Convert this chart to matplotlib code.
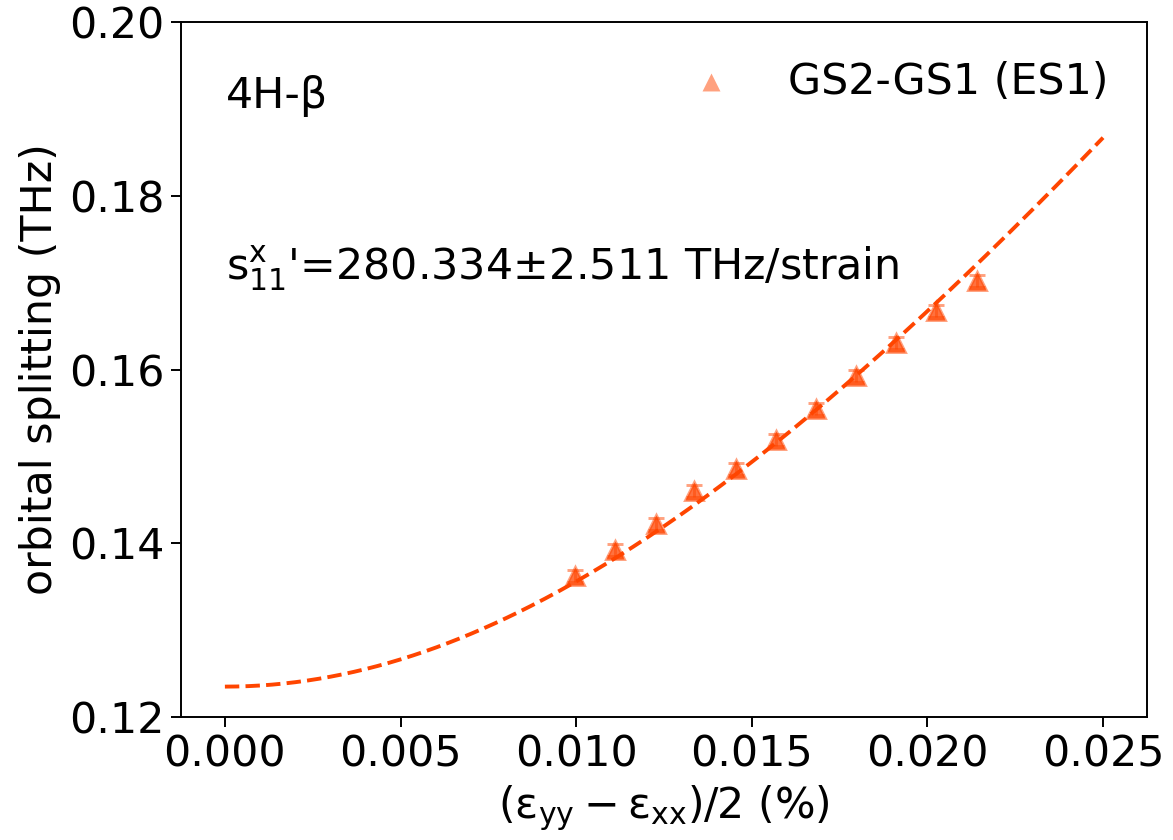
import numpy as np
import matplotlib
matplotlib.use("Agg")
import matplotlib.pyplot as plt

# Measured orbital splitting vs. uniaxial strain difference
strain = [0.00997, 0.01110, 0.01227, 0.01335, 0.01455, 0.01569,
          0.01683, 0.01797, 0.01911, 0.02024, 0.02141]
splitting = [0.13620, 0.13922, 0.14222, 0.14601, 0.14855, 0.15188,
             0.15545, 0.15925, 0.16305, 0.16673, 0.17015]
splitting_err = [0.0007] * len(strain)

# Fit model parameters: sqrt(delta0^2 + (slope * strain)^2)
delta0 = 0.1235
slope = 5.60
fit_range = (0.0, 0.025)

color = "orangered"
plt.rcParams["font.family"] = ["DejaVu Sans"]
plt.rcParams["font.size"] = 22

fig, ax = plt.subplots(figsize=(1173 / 140, 840 / 140), dpi=140)
fig.subplots_adjust(left=0.1543, right=0.9778, bottom=0.1464, top=0.9738)

ax.errorbar(strain, splitting, yerr=splitting_err, fmt="^", color=color,
            alpha=0.5, markersize=9.5, capsize=4, elinewidth=1.5,
            markeredgewidth=1.5, zorder=2)
ax.scatter(strain, splitting, marker="^", color=color, alpha=0.5, s=85,
           linewidths=0, label="GS2-GS1 (ES1)", zorder=2)

xf = np.linspace(fit_range[0], fit_range[1], 300)
yf = np.sqrt(delta0 ** 2 + (slope * xf) ** 2)
ax.plot(xf, yf, "--", color=color, linewidth=2, zorder=3)

ax.set_ylim(0.12, 0.20)
ax.set_yticks([0.12, 0.14, 0.16, 0.18, 0.20])
ax.set_xticks([0.0, 0.005, 0.010, 0.015, 0.020, 0.025])
ax.xaxis.set_major_formatter(matplotlib.ticker.FormatStrFormatter("%.3f"))
ax.yaxis.set_major_formatter(matplotlib.ticker.FormatStrFormatter("%.2f"))
ax.tick_params(length=5, width=1)
for sp in ax.spines.values():
    sp.set_linewidth(1.0)

ax.set_xlabel(r"$\mathregular{(\varepsilon_{yy}-\varepsilon_{xx})/2}$ (%)")
ax.set_ylabel("orbital splitting (THz)")

ax.text(0.047, 0.876, "4H-β", transform=ax.transAxes)
ax.text(0.047, 0.629, r"$\mathregular{s_{11}^{x}}$'=280.334±2.511 THz/strain",
        transform=ax.transAxes)

ax.legend(loc="upper right", frameon=False, scatterpoints=1)

fig.savefig("out.png", dpi=140)
